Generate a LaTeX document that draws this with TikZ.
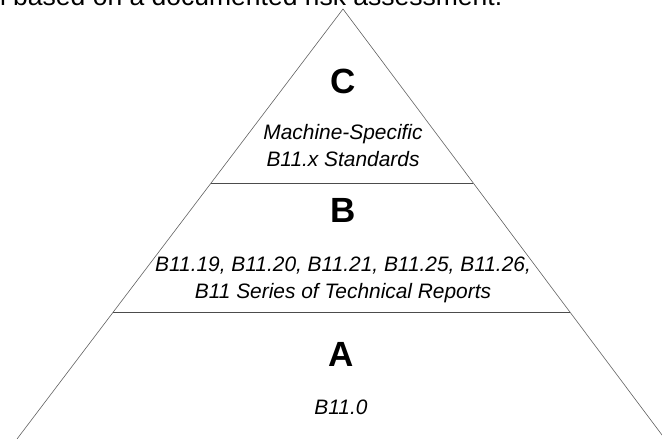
\documentclass[tikz,border=0pt]{standalone}
\usepackage{fontspec}
\setmainfont{Liberation Sans}
\usetikzlibrary{calc}

\begin{document}
\begin{tikzpicture}[
    x=1pt, y=-1pt,
    every node/.style={inner sep=0pt, outer sep=0pt},
    tier/.style={font=\fontsize{35}{40}\selectfont\bfseries, anchor=base},
    stds/.style={font=\fontsize{20.9}{26.4}\selectfont\itshape, align=center, anchor=base},
    side/.style={draw=black!62, line width=0.6pt},
    divider/.style={draw=black!70, line width=0.9pt}
]
    \clip (0,0) rectangle (662,439);

    % pyramid outline
    \coordinate (apex) at (343,9);
    \coordinate (baseL) at (17,439);
    \coordinate (baseR) at (665,439);
    \coordinate (cbL) at ($(apex)!0.4047!(baseL)$);
    \coordinate (cbR) at ($(apex)!0.4047!(baseR)$);
    \coordinate (baL) at ($(apex)!0.7047!(baseL)$);
    \coordinate (baR) at ($(apex)!0.7047!(baseR)$);

    \draw[side] (baseL) -- (apex) -- (baseR);
    \draw[divider] (cbL) -- (cbR);
    \draw[divider] (baL) -- (baR);

    % sentence cut off at the top
    \node[font=\fontsize{26.5}{30}\selectfont, anchor=base west] (note) at (0,5.6)
        {l based on a documented risk assessment.};

    % tiers (multi-line text sits on its last baseline)
    \node[tier] (tierC) at (343,93) {C};
    \node[stds] (stdsC) at (343,166) {Machine-Specific\\B11.x Standards};
    \node[tier] (tierB) at (343,222.3) {B};
    \node[stds] (stdsB) at (343,298.3) {B11.19, B11.20, B11.21, B11.25, B11.26,\\B11 Series of Technical Reports};
    \node[tier] (tierA) at (341,366.7) {A};
    \node[stds] (stdsA) at (341,414) {B11.0};
\end{tikzpicture}
\end{document}
